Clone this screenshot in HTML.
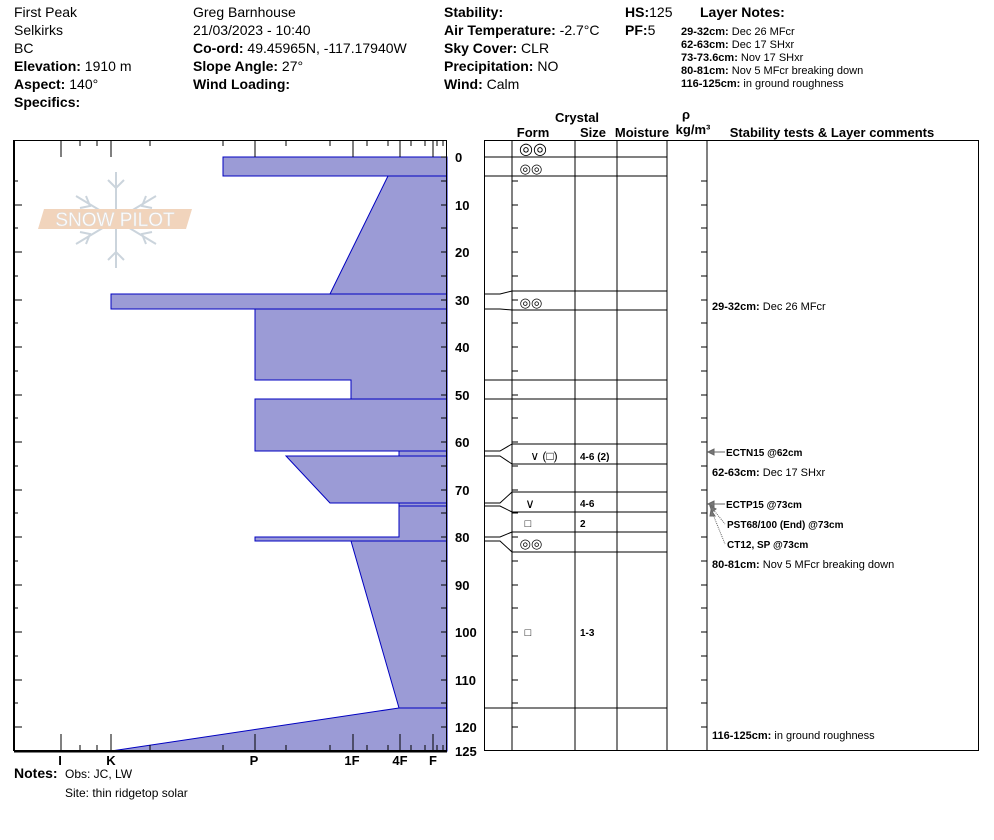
<!DOCTYPE html>
<html><head><meta charset="utf-8"><style>
body{margin:0;background:#fff;}
svg{display:block;font-family:"Liberation Sans",Arial,sans-serif;}
</style></head><body>
<svg width="994" height="840" viewBox="0 0 994 840" xmlns="http://www.w3.org/2000/svg">
<g font-size="14" fill="#000">
<text x="14" y="17">First Peak</text>
<text x="14" y="35">Selkirks</text>
<text x="14" y="53">BC</text>
<text x="14" y="71"><tspan font-weight="bold">Elevation:</tspan> 1910 m</text>
<text x="14" y="89"><tspan font-weight="bold">Aspect:</tspan> 140°</text>
<text x="14" y="107" font-weight="bold">Specifics:</text>
<text x="193" y="17">Greg Barnhouse</text>
<text x="193" y="35">21/03/2023 - 10:40</text>
<text x="193" y="53"><tspan font-weight="bold">Co-ord:</tspan> 49.45965N, -117.17940W</text>
<text x="193" y="71"><tspan font-weight="bold">Slope Angle:</tspan> 27°</text>
<text x="193" y="89" font-weight="bold">Wind Loading:</text>
<text x="444" y="17" font-weight="bold">Stability:</text>
<text x="444" y="35"><tspan font-weight="bold">Air Temperature:</tspan> -2.7°C</text>
<text x="444" y="53"><tspan font-weight="bold">Sky Cover:</tspan> CLR</text>
<text x="444" y="71"><tspan font-weight="bold">Precipitation:</tspan> NO</text>
<text x="444" y="89"><tspan font-weight="bold">Wind:</tspan>  Calm</text>
<text x="625" y="17"><tspan font-weight="bold">HS:</tspan>125</text>
<text x="625" y="35"><tspan font-weight="bold">PF:</tspan>5</text>
<text x="700" y="17" font-weight="bold">Layer Notes:</text>
</g>
<g font-size="11">
<text x="681" y="35"><tspan font-weight="bold">29-32cm:</tspan> Dec 26 MFcr</text>
<text x="681" y="48"><tspan font-weight="bold">62-63cm:</tspan> Dec 17 SHxr</text>
<text x="681" y="61"><tspan font-weight="bold">73-73.6cm:</tspan> Nov 17 SHxr</text>
<text x="681" y="74"><tspan font-weight="bold">80-81cm:</tspan> Nov 5 MFcr breaking down</text>
<text x="681" y="87"><tspan font-weight="bold">116-125cm:</tspan> in ground roughness</text>
</g>
<!-- logo -->
<g opacity="0.6">
<g stroke="#a9b8c6" stroke-width="2" fill="none">
<line x1="116" y1="172" x2="116" y2="268"/><line x1="76" y1="196" x2="156" y2="244"/><line x1="76" y1="244" x2="156" y2="196"/>
<path d="M108,180l8,8l8,-8M108,260l8,-8l8,8M80,208l10,-2l-4,-10M152,232l-10,2l4,10M80,232l10,2l-4,10M152,208l-10,-2l4,-10"/>
</g>
<polygon points="44,209 192,209 186,229 38,229" fill="#e8b890"/>
<text x="115" y="226" font-size="19" fill="#fff" stroke="#ccc" stroke-width="0.5" text-anchor="middle">SNOW PILOT</text>
</g>
<!-- left chart -->
<path d="M447,157 L223,157 L223,176 L388,176 L330,294 L111,294 L111,309 L255,309 L255,380 L351,380 L351,399 L255,399 L255,451 L399,451 L399,456 L286,456 L330,503 L399,503 L399,506 L399,537 L255,537 L255,541 L351,541 L399,708 L111,751 L447,751 Z" fill="#9b9bd6" stroke="#0000c0" stroke-width="1"/>
<g stroke="#0000c0" stroke-width="1">
<line x1="388" y1="176" x2="447" y2="176"/><line x1="330" y1="294" x2="447" y2="294"/><line x1="255" y1="309" x2="447" y2="309"/>
<line x1="351" y1="399" x2="447" y2="399"/><line x1="399" y1="456" x2="447" y2="456"/><line x1="330" y1="503" x2="447" y2="503"/><line x1="399" y1="506" x2="447" y2="506"/>
<line x1="351" y1="541" x2="447" y2="541"/><line x1="399" y1="708" x2="447" y2="708"/><line x1="255" y1="451" x2="447" y2="451"/>
</g>
<rect x="14.5" y="140.5" width="432" height="610" fill="none" stroke="#000"/>
<g stroke="#000">
<line x1="14" y1="751.5" x2="447" y2="751.5" stroke-width="2"/>
<line x1="14" y1="140" x2="14" y2="751" stroke-width="2"/>
<path d="M61,140v17M111,140v17M255,140v17M353,140v17M400,140v17M433,140v17M80,140v6M97,140v6M150,140v6M223,140v6M286,140v6M330,140v6M367,140v6M388,140v6M411,140v6M425,140v6M437,140v6M443,140v6"/>
<path d="M61,751v-17M111,751v-17M255,751v-17M353,751v-17M400,751v-17M433,751v-17M80,751v-6M97,751v-6M150,751v-6M223,751v-6M286,751v-6M330,751v-6M367,751v-6M388,751v-6M411,751v-6M425,751v-6M437,751v-6M443,751v-6"/>
</g>
<g stroke="#000">
<path d="M441,157h6M441,181h6M441,205h6M441,228h6M441,252h6M441,276h6M441,300h6M441,323h6M441,347h6M441,371h6M441,395h6M441,418h6M441,442h6M441,466h6M441,490h6M441,513h6M441,537h6M441,561h6M441,585h6M441,608h6M441,632h6M441,656h6M441,680h6M441,703h6M441,727h6"/>
<path d="M14,181h4M14,205h8M14,228h4M14,252h8M14,276h4M14,300h8M14,323h4M14,347h8M14,371h4M14,395h8M14,418h4M14,442h8M14,466h4M14,490h8M14,513h4M14,537h8M14,561h4M14,585h8M14,608h4M14,632h8M14,656h4M14,680h8M14,703h4M14,727h8"/>
</g>
<g font-size="13" font-weight="bold" font-family="Liberation Sans Narrow,Liberation Sans,sans-serif">
<text x="455" y="162">0</text><text x="455" y="210">10</text><text x="455" y="257">20</text><text x="455" y="305">30</text><text x="455" y="352">40</text><text x="455" y="400">50</text><text x="455" y="447">60</text><text x="455" y="495">70</text><text x="455" y="542">80</text><text x="455" y="590">90</text><text x="455" y="637">100</text><text x="455" y="685">110</text><text x="455" y="732">120</text><text x="455" y="756">125</text>
</g>
<g font-size="13" font-weight="bold" text-anchor="middle">
<text x="60" y="765">I</text><text x="111" y="765">K</text><text x="254" y="765">P</text><text x="352" y="765">1F</text><text x="400" y="765">4F</text><text x="433" y="765">F</text>
</g>
<text x="14" y="778" font-size="14" font-weight="bold">Notes:</text>
<text x="65" y="778" font-size="12">Obs: JC, LW</text>
<text x="65" y="797" font-size="12">Site: thin ridgetop solar</text>
<!-- right table -->
<g font-size="13" font-weight="bold" text-anchor="middle">
<text x="577" y="122">Crystal</text><text x="533" y="137">Form</text><text x="593" y="137">Size</text><text x="642" y="137">Moisture</text><text x="686" y="119">ρ</text><text x="693" y="134">kg/m³</text><text x="832" y="137">Stability tests &amp; Layer comments</text>
</g>
<rect x="484.5" y="140.5" width="494" height="610" fill="none" stroke="#000"/>
<g stroke="#000" fill="none">
<path d="M512,140V751M575,140V751M617,140V751M667,140V751M707,140V751"/>
<path d="M484,157H667M484,176H667M512,291H667M512,310H667M484,380H667M484,399H667M512,444H667M512,464H667M512,492H667M512,512H667M512,532H667M512,552H667M484,708H667"/>
<path d="M484,294H500L512,291M484,309H500L512,310M484,451H500L512,444M484,456H500L512,464M484,503H500L512,492M484,506H500L512,512M484,537H500L512,532M484,541H500L512,552"/>
<path d="M512,181h6M512,205h6M512,228h6M512,252h6M512,276h6M512,300h6M512,323h6M512,347h6M512,371h6M512,395h6M512,418h6M512,442h6M512,466h6M512,490h6M512,513h6M512,537h6M512,561h6M512,585h6M512,608h6M512,632h6M512,656h6M512,680h6M512,703h6M512,727h6"/>
<path d="M701,181h6M701,205h6M701,228h6M701,252h6M701,276h6M701,300h6M701,323h6M701,347h6M701,371h6M701,395h6M701,418h6M701,442h6M701,466h6M701,490h6M701,513h6M701,537h6M701,561h6M701,585h6M701,608h6M701,632h6M701,656h6M701,680h6M701,703h6M701,727h6"/>
</g>
<g font-size="13" text-anchor="middle">
<text x="533" y="154" font-size="16">◎◎</text><text x="531" y="173">◎◎</text><text x="531" y="307">◎◎</text>
<text x="544" y="460" font-size="12">∨ (□)</text><text x="530" y="508">∨</text><text x="528" y="527" font-size="11">□</text><text x="531" y="548">◎◎</text><text x="528" y="636" font-size="11">□</text>
</g>
<g font-size="10" font-weight="bold">
<text x="580" y="460">4-6 (2)</text><text x="580" y="507">4-6</text><text x="580" y="527">2</text><text x="580" y="636">1-3</text>
</g>
<g font-size="11">
<text x="712" y="310"><tspan font-weight="bold">29-32cm:</tspan> Dec 26 MFcr</text>
<text x="712" y="476"><tspan font-weight="bold">62-63cm:</tspan> Dec 17 SHxr</text>
<text x="712" y="568"><tspan font-weight="bold">80-81cm:</tspan> Nov 5 MFcr breaking down</text>
<text x="712" y="739"><tspan font-weight="bold">116-125cm:</tspan> in ground roughness</text>
</g>
<g font-size="10" font-weight="bold">
<text x="726" y="456">ECTN15 @62cm</text><text x="726" y="508">ECTP15 @73cm</text><text x="727" y="528">PST68/100 (End) @73cm</text><text x="727" y="548">CT12, SP @73cm</text>
</g>
<g stroke="#666" fill="#777">
<line x1="710" y1="452" x2="725" y2="452"/><polygon points="708,452 714,449 714,455"/>
<line x1="710" y1="504" x2="725" y2="504"/><polygon points="708,504 714,501 714,507"/>
<line x1="712" y1="508" x2="725" y2="524" stroke-dasharray="1,1"/><polygon points="710,506 716,509 712,512"/>
<line x1="712" y1="512" x2="725" y2="544" stroke-dasharray="1,1"/><polygon points="711,510 715,516 710,516"/>
</g>
</svg>
</body></html>
